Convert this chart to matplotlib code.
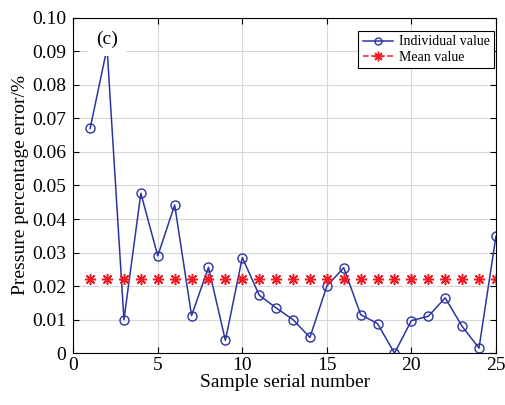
import numpy as np
import matplotlib
matplotlib.use("Agg")
import matplotlib.pyplot as plt
from matplotlib.lines import Line2D

plt.rcParams['font.family'] = ['Liberation Serif', 'DejaVu Serif']

sample = list(range(1, 26))
individual = [0.067, 0.091, 0.010, 0.0477, 0.029, 0.0442, 0.0112, 0.0256, 0.0038, 0.0285,
              0.0173, 0.0135, 0.0100, 0.0047, 0.0200, 0.0255, 0.0115, 0.0088, 0.0000, 0.0097,
              0.0110, 0.0165, 0.0080, 0.0015, 0.0348]
mean_value = [0.0222] * 25

blue = '#2b35a0'
red = '#ee1c25'

fig = plt.figure(figsize=(5.05, 4.05), dpi=100)
ax = fig.add_axes([0.145, 0.128, 0.837, 0.828])

ax.plot(sample, individual, color=blue, lw=1.1, marker='o', ms=6.5,
        mfc='none', mec=blue, mew=1.0)
ax.plot(sample, mean_value, ls='none', marker=(8, 2, 0), ms=8, mew=1.1,
        mec=red, color=red)

ax.set_xlim(0, 25)
ax.set_ylim(0, 0.10)
ax.set_xticks([0, 5, 10, 15, 20, 25])
ax.set_yticks(np.arange(0, 0.101, 0.01))
ax.set_yticklabels(['0'] + ['%.2f' % v for v in np.arange(0.01, 0.101, 0.01)])
ax.tick_params(direction='in', top=True, right=True, labelsize=14, length=4)
ax.tick_params(axis='y', pad=5)
ax.tick_params(axis='x', pad=3)
ax.grid(True, color='#d8d8d8', lw=0.8)
ax.set_axisbelow(True)
for s in ax.spines.values():
    s.set_linewidth(0.8)

ax.set_xlabel('Sample serial number', fontsize=14, labelpad=0)
ax.set_ylabel('Pressure percentage error/%', fontsize=14, labelpad=2)

ax.text(2.0, 0.0937, '(c)', fontsize=14, ha='center', va='center', zorder=6,
        bbox=dict(facecolor='white', edgecolor='none', pad=6))

handles = [Line2D([], [], color=blue, lw=1.1, marker='o', ms=5, mfc='none', mec=blue),
           Line2D([], [], color=red, ls='--', lw=1.1, marker=(8, 2, 0), ms=7, mec=red)]
leg = ax.legend(handles, ['Individual value', 'Mean value'], loc='upper right',
                bbox_to_anchor=(0.995, 0.96), fontsize=10, fancybox=False,
                edgecolor='black', framealpha=1, handlelength=2.2, borderpad=0.3,
                labelspacing=0.2, handletextpad=0.4, borderaxespad=0)
leg.get_frame().set_linewidth(0.8)

fig.savefig('out.png', dpi=100)
